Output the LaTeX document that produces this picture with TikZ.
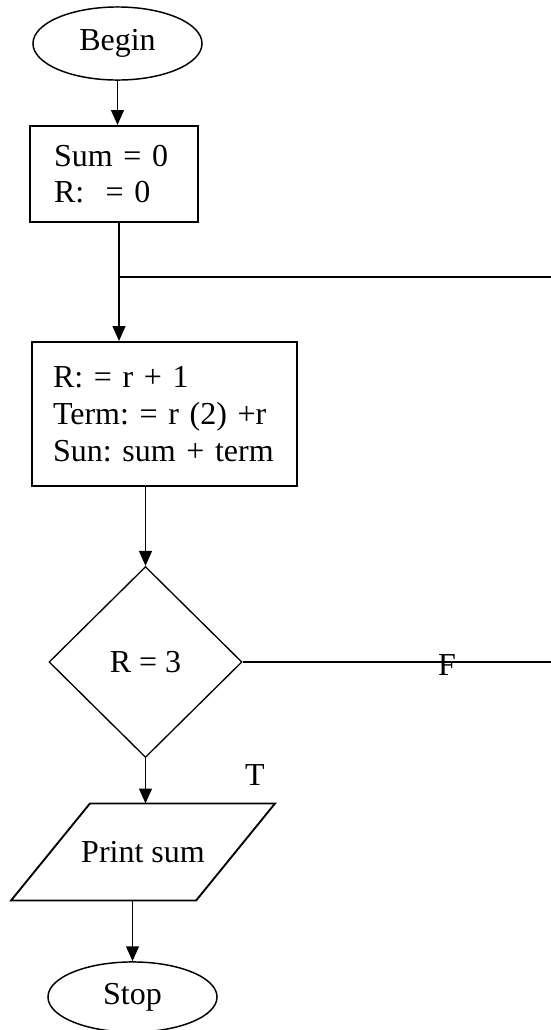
\documentclass[tikz,border=0pt]{standalone}
\usepackage{fontspec}
\setmainfont{Liberation Serif}
\usetikzlibrary{shapes.geometric,arrows.meta}

\tikzset{
  every node/.style={font=\fontsize{12}{13.8}\selectfont\frenchspacing},
  terminal/.style={ellipse,draw,line width=0.55pt,minimum width=63.4pt,minimum height=27.4pt,inner sep=0pt},
  procbox/.style={rectangle,draw,line width=0.75pt,align=left,inner ysep=0pt},
  decision/.style={diamond,draw,line width=0.5pt,minimum width=72.4pt,minimum height=71.6pt,inner sep=0pt},
  flow/.style={line width=0.7pt,-{Triangle[width=4.8pt,length=5.6pt]}},
  link/.style={line width=0.7pt}
}

\begin{document}
\begin{tikzpicture}[x=0.375pt,y=-0.375pt]

% page size of the reference, in pixels
\useasboundingbox (0,0) rectangle (551,1030);

% start and initial values
\node[terminal] (begin) at (117.5,43.5) {Begin};
\node[procbox,inner xsep=9pt,text width=45pt,minimum height=36pt] (init) at (114,174) {Sum = 0\\R:\ \ = 0};

% loop body
\node[procbox,inner xsep=7.9pt,text width=83.6pt,minimum height=54pt] (body) at (164.5,414) {R: = r + 1\\Term: = r (2) +r\\Sun: sum + term};

% test
\node[decision] (test) at (145.5,662) {R = 3};

% output, parallelogram drawn round the text
\node[minimum width=69pt,minimum height=36pt,inner sep=0pt] (print) at (143,852) {Print sum};
\draw[line width=0.7pt] ([xshift=14.8pt]print.north west) -- ([xshift=14.8pt]print.north east)
  -- ([xshift=-14.8pt]print.south east) -- ([xshift=-14.8pt]print.south west) -- cycle;

% end
\node[terminal,minimum height=26.3pt] (stop) at (132.5,997) {Stop};

% branch labels
\node (flabel) at (447,665) {F};
\node (tlabel) at (255,775) {T};

% loop lines run off the right edge
\coordinate (loopin) at (119,277);
\coordinate (loopedge) at (551,277);
\coordinate (falseedge) at (551,662);

% connectors
\draw[flow] (begin.south) -- (begin.south |- init.north);
\draw[flow] (init.south -| loopin) -- (loopin |- body.north);
\draw[link] (loopin) -- (loopedge);
\draw[flow] (body.south -| test.north) -- (test.north);
\draw[link] (test.east) -- (falseedge);
\draw[flow] (test.south) -- (test.south |- print.north);
\draw[flow] (print.south -| stop.north) -- (stop.north);

\end{tikzpicture}
\end{document}
